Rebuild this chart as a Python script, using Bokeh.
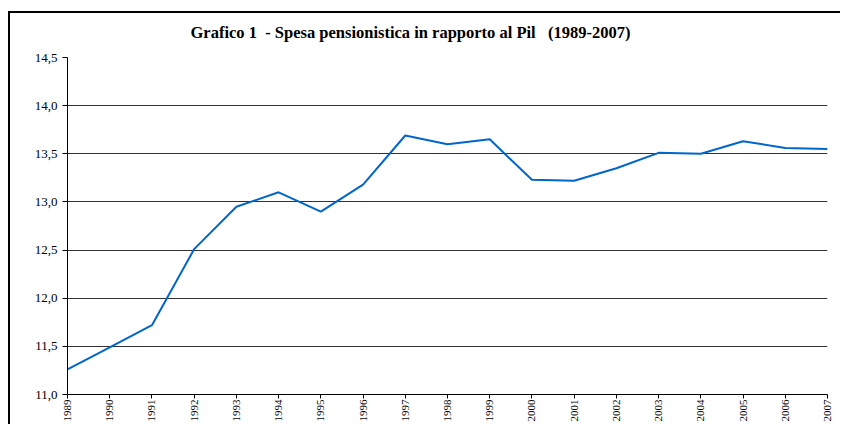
import math
from bokeh.plotting import figure
from bokeh.models import Range1d, FixedTicker
from bokeh.embed import file_html
from bokeh.resources import INLINE

years = [1989, 1990, 1991, 1992, 1993, 1994, 1995, 1996, 1997, 1998,
         1999, 2000, 2001, 2002, 2003, 2004, 2005, 2006, 2007]
spesa = [11.26, 11.49, 11.72, 12.51, 12.95, 13.10, 12.90, 13.18, 13.69, 13.60,
         13.65, 13.23, 13.22, 13.35, 13.51, 13.50, 13.63, 13.56, 13.55]
y_ticks = [11.0, 11.5, 12.0, 12.5, 13.0, 13.5, 14.0, 14.5]
y_tick_labels = {t: f"{t:.1f}".replace(".", ",") for t in y_ticks}
x_tick_labels = {y: str(y) for y in years}
title_text = "Grafico 1\u00a0 - Spesa pensionistica in rapporto al Pil\u00a0\u00a0 (1989-2007)"

SERIF = "Liberation Serif"

p = figure(width=840, height=424, output_backend="svg", toolbar_location=None,
           x_range=Range1d(years[0], years[-1]), y_range=Range1d(y_ticks[0], y_ticks[-1]),
           min_border_left=67, min_border_right=13, min_border_top=57, min_border_bottom=25,
           background_fill_color="white", border_fill_color=None)
p.outline_line_color = None
# chart-area frame (left and top edges visible in the reference)
p.styles = {
    "background-color": "white",
    "background-image": "linear-gradient(#000,#000), linear-gradient(#000,#000)",
    "background-position": "8px 11px, 8px 11px",
    "background-size": "2px 420px, 840px 2px",
    "background-repeat": "no-repeat, no-repeat",
}

p.title.text = title_text
p.title.align = "left"
p.title.offset = 123
p.title.standoff = 32
p.title.text_font = SERIF
p.title.text_font_style = "bold"
p.title.text_font_size = "16.5px"
p.title.text_color = "black"

p.xaxis.ticker = FixedTicker(ticks=years)
p.xaxis.major_label_overrides = x_tick_labels
p.xaxis.major_label_orientation = math.pi / 2
p.xaxis.minor_tick_line_color = None
p.xaxis.major_tick_out = 4
p.xaxis.major_tick_in = 0
p.xaxis.major_label_standoff = 1
p.xaxis.major_label_text_font = SERIF
p.xaxis.major_label_text_font_size = "11px"
p.xaxis.major_label_text_color = "black"
p.xaxis.axis_line_color = "black"
p.xaxis.major_tick_line_color = "black"

p.yaxis.ticker = FixedTicker(ticks=y_ticks)
p.yaxis.major_label_overrides = y_tick_labels
p.yaxis.minor_tick_line_color = None
p.yaxis.major_tick_out = 5
p.yaxis.major_tick_in = 0
p.yaxis.major_label_standoff = 5
p.yaxis.major_label_text_font = SERIF
p.yaxis.major_label_text_font_size = "13px"
p.yaxis.major_label_text_color = "black"
p.yaxis.axis_line_color = "black"
p.yaxis.major_tick_line_color = "black"

p.xgrid.grid_line_color = None
p.ygrid.grid_line_color = "#333333"
p.ygrid.grid_line_width = 1

p.line(years, spesa, line_color="#0066CC", line_width=2)

open("out.html", "w").write(file_html(p, INLINE))
